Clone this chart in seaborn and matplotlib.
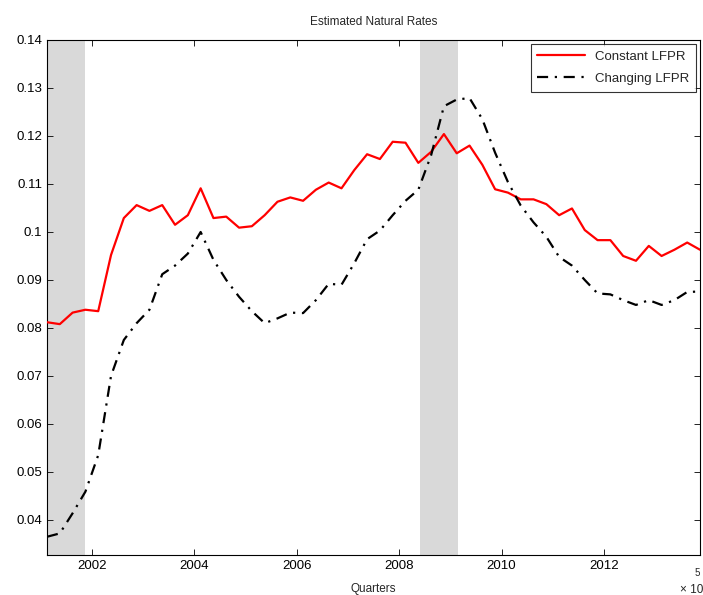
import pandas as pd
import matplotlib
matplotlib.use("Agg")
import matplotlib.pyplot as plt
import seaborn as sns

sns.set_theme(style="ticks")
plt.rcParams.update({
    "font.family": ["Liberation Sans", "DejaVu Sans"],
    "axes.edgecolor": "black",
    "axes.linewidth": 0.8,
    "xtick.direction": "in",
    "ytick.direction": "in",
    "xtick.top": True,
    "ytick.right": True,
    "xtick.major.size": 4,
    "ytick.major.size": 4,
})

# ---------------------------------------------------------------------------
# Data (quarterly 2001Q1 - 2013Q4)
# ---------------------------------------------------------------------------

periods = pd.period_range("2001Q1", "2013Q4", freq="Q")

constant_lfpr = [
    0.0812, 0.0808, 0.0832, 0.0838, 0.0835, 0.0952, 0.1029, 0.1056,
    0.1044, 0.1056, 0.1015, 0.1035, 0.1091, 0.1029, 0.1032, 0.1009,
    0.1012, 0.1035, 0.1063, 0.1072, 0.1065, 0.1088, 0.1103, 0.1091,
    0.1129, 0.1162, 0.1152, 0.1188, 0.1186, 0.1144, 0.1167, 0.1204,
    0.1164, 0.1180, 0.1140, 0.1089, 0.1082, 0.1068, 0.1068, 0.1058,
    0.1035, 0.1049, 0.1004, 0.0983, 0.0983, 0.0950, 0.0940, 0.0971,
    0.0950, 0.0963, 0.0978, 0.0963,
]

changing_lfpr = [
    0.0365, 0.0372, 0.0414, 0.0459, 0.0535, 0.0700, 0.0775, 0.0810,
    0.0838, 0.0912, 0.0930, 0.0955, 0.1000, 0.0942, 0.0900, 0.0865,
    0.0835, 0.0810, 0.0820, 0.0832, 0.0831, 0.0858, 0.0892, 0.0890,
    0.0935, 0.0985, 0.1003, 0.1035, 0.1065, 0.1088, 0.1160, 0.1262,
    0.1276, 0.1279, 0.1235, 0.1165, 0.1104, 0.1055, 0.1020, 0.0990,
    0.0948, 0.0930, 0.0900, 0.0872, 0.0870, 0.0858, 0.0848, 0.0858,
    0.0848, 0.0858, 0.0875, 0.0876,
]

# recession bands (start, end) in decimal years
recessions = [(2001.125, 2001.87), (2008.41, 2009.15)]

xticks = [2002, 2004, 2006, 2008, 2010, 2012]
yticks = [0.04, 0.05, 0.06, 0.07, 0.08, 0.09, 0.10, 0.11, 0.12, 0.13, 0.14]
ytick_labels = ["0.04", "0.05", "0.06", "0.07", "0.08", "0.09",
                "0.1", "0.11", "0.12", "0.13", "0.14"]

DASHDOT = (5, 3, 1, 3)

# ---------------------------------------------------------------------------

x = [p.year + (p.quarter - 0.5) / 4 for p in periods]
df = pd.DataFrame({"t": x, "Constant LFPR": constant_lfpr,
                   "Changing LFPR": changing_lfpr})

fig = plt.figure(figsize=(7.03, 5.95), dpi=100)
ax = fig.add_axes([47 / 703, 1 - 555 / 595, 653 / 703, 515 / 595])

for start, end in recessions:
    ax.axvspan(start, end, color="#d9d9d9", lw=0, zorder=0)

sns.lineplot(data=df, x="t", y="Constant LFPR", ax=ax, color="red",
             linewidth=1.6, label="Constant LFPR", zorder=3)
sns.lineplot(data=df, x="t", y="Changing LFPR", ax=ax, color="black",
             linewidth=1.6, label="Changing LFPR", zorder=3)
ax.lines[1].set_dashes(DASHDOT)

ax.set_xlim(x[0], x[-1])
ax.set_ylim(0.0327, 0.14)
ax.set_xticks(xticks)
ax.set_xticklabels([str(v) for v in xticks])
ax.set_yticks(yticks)
ax.set_yticklabels(ytick_labels)
ax.tick_params(labelsize=9.5, colors="black", width=0.6)
for side in ax.spines.values():
    side.set_visible(True)
    side.set_linewidth(0.8)

ax.set_title("Estimated Natural Rates", fontsize=8.5, pad=11)
ax.set_xlabel("Quarters", fontsize=8.5, labelpad=8)
ax.set_ylabel("")

leg = ax.legend(loc="upper right", fontsize=9.5, frameon=True, fancybox=False,
                edgecolor="black", handlelength=3.6, borderpad=0.5,
                labelspacing=0.75, borderaxespad=0.3)
leg.get_frame().set_linewidth(0.8)
leg.get_lines()[1].set_dashes(DASHDOT)

fig.text(680 / 703, 1 - 590 / 595, "\u00d7 10", fontsize=8.5, ha="left", va="center")
fig.text(695 / 703, 1 - 573 / 595, "5", fontsize=7, ha="left", va="center")

fig.savefig("out.png", dpi=100)
